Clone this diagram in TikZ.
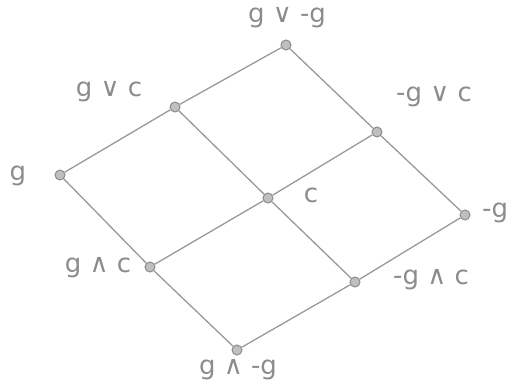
\documentclass[tikz,border=0pt]{standalone}
\usepackage{fontspec}
\setmainfont{DejaVu Sans}
\begin{document}
\begin{tikzpicture}[x=1pt,y=-1pt,
  vtx/.style={circle,draw=black!45,fill=black!25,line width=1pt,inner sep=0pt,minimum size=10pt},
  edge/.style={draw=black!40,line width=1.3pt},
  lbl/.style={text=black!45,font=\fontsize{26}{30}\selectfont,inner sep=0pt}]
\useasboundingbox (0,0) rectangle (516,385);
\clip (0,0) rectangle (516,385);
\node[vtx] (top) at (286,45) {};
\node[vtx] (gvc) at (175,107) {};
\node[vtx] (ngvc) at (377,132) {};
\node[vtx] (g) at (60,175) {};
\node[vtx] (c) at (268,198) {};
\node[vtx] (ng) at (465,215) {};
\node[vtx] (gac) at (150,267) {};
\node[vtx] (ngac) at (355,282) {};
\node[vtx] (bot) at (237,350) {};
\draw[edge] (top) -- (gvc);
\draw[edge] (top) -- (ngvc);
\draw[edge] (gvc) -- (g);
\draw[edge] (gvc) -- (c);
\draw[edge] (ngvc) -- (c);
\draw[edge] (ngvc) -- (ng);
\draw[edge] (g) -- (gac);
\draw[edge] (c) -- (gac);
\draw[edge] (c) -- (ngac);
\draw[edge] (ng) -- (ngac);
\draw[edge] (gac) -- (bot);
\draw[edge] (ngac) -- (bot);
\node[lbl] (ltop) at (287,18) {g ∨ -g};
\node[lbl] (lgvc) at (109,92) {g ∨ c};
\node[lbl] (lngvc) at (434,97) {-g ∨ c};
\node[lbl] (lg) at (18,176) {g};
\node[lbl] (lc) at (311,195) {c};
\node[lbl,anchor=west] (lng) at (482,213) {-g};
\node[lbl] (lgac) at (98,268) {g ∧ c};
\node[lbl] (lngac) at (431,280) {-g ∧ c};
\node[lbl] (lbot) at (238,370) {g ∧ -g};
\end{tikzpicture}
\end{document}
